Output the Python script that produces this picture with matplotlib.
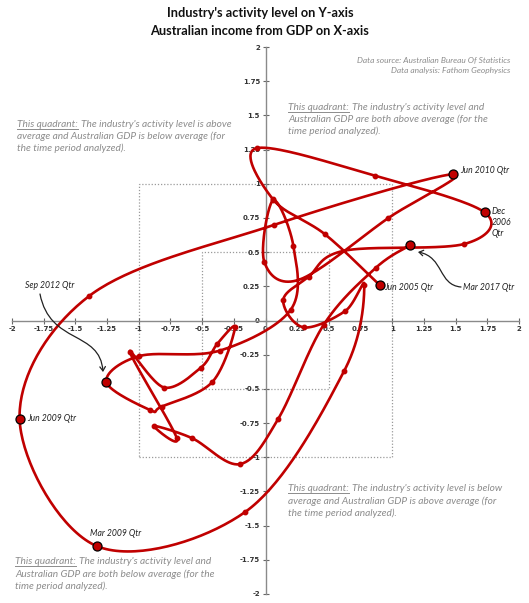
import numpy as np
import matplotlib
matplotlib.use("Agg")
import matplotlib.pyplot as plt
from matplotlib.patches import FancyArrowPatch, Rectangle
from matplotlib.path import Path
from matplotlib.lines import Line2D

# ---------------- data ----------------
gdp_x = [0.90, 0.47, 0.06, -0.07, 0.86, 1.73, 1.57, 0.62, 0.34, 0.14,
         0.30, 0.63, 0.78, 0.62, -0.16, -1.33, -1.94, -1.39, 0.07, 1.48,
         0.97, 0.27, -0.01, 0.06, 0.22, 0.20, -0.36, -0.995, -1.255, -0.91,
         -0.82, -0.42, -0.24, -0.38, -0.51, -0.80, -1.07, -0.70, -0.88, -0.58,
         -0.20, 0.10, 0.46, 0.87, 1.14]
ind_y = [0.26, 0.63, 0.885, 1.26, 1.06, 0.79, 0.56, 0.51, 0.32, 0.15,
         -0.05, 0.07, 0.26, -0.37, -1.40, -1.65, -0.72, 0.18, 0.70, 1.07,
         0.75, 0.30, 0.43, 0.88, 0.545, 0.08, -0.22, -0.26, -0.45, -0.655,
         -0.63, -0.45, -0.05, -0.17, -0.345, -0.49, -0.23, -0.86, -0.77, -0.86,
         -1.05, -0.72, -0.03, 0.385, 0.55]
hidden_points = [7, 21]          # points sitting under crossings (no dot drawn)
label_idx = [0, 5, 15, 16, 19, 28, 44]
label_txt = ["Jun 2005 Qtr", "Dec\n2006\nQtr", "Mar 2009 Qtr", "Jun 2009 Qtr",
             "Jun 2010 Qtr", "Sep 2012 Qtr", "Mar 2017 Qtr"]
ticks = [-2, -1.75, -1.5, -1.25, -1, -0.75, -0.5, -0.25, 0,
         0.25, 0.5, 0.75, 1, 1.25, 1.5, 1.75, 2]
tick_lbl = ["-2", "-1.75", "-1.5", "-1.25", "-1", "-0.75", "-0.5", "-0.25", "0",
            "0.25", "0.5", "0.75", "1", "1.25", "1.5", "1.75", "2"]

title1 = "Industry's activity level on Y-axis"
title2 = "Australian income from GDP on X-axis"
source1 = "Data source: Australian Bureau Of Statistics"
source2 = "Data analysis: Fathom Geophysics"
quad_tl = ["The industry's activity level is above",
           "average and Australian GDP is below average (for",
           "the time period analyzed)."]
quad_tr = ["The industry's activity level and",
           "Australian GDP are both above average (for the",
           "time period analyzed)."]
quad_br = ["The industry's activity level is below",
           "average and Australian GDP is above average (for",
           "the time period analyzed)."]
quad_bl = ["The industry's activity level and",
           "Australian GDP are both below average (for the",
           "time period analyzed)."]

# ---------------- style ----------------
RED = "#c00000"
GREY_TXT = "#8c8c8c"
FONT = "Lato"
W, H = 529, 603
QSIZE = 7.25

def smooth(xs, ys, n=40):
    P = np.column_stack([xs, ys]).astype(float)
    m = np.zeros_like(P)
    m[1:-1] = (P[2:] - P[:-2]) / 2.0
    m[0] = (P[1] - P[0]) / 2.0
    m[-1] = (P[-1] - P[-2]) / 2.0
    t = np.linspace(0, 1, n)[:, None]
    h00 = 2 * t**3 - 3 * t**2 + 1
    h10 = t**3 - 2 * t**2 + t
    h01 = -2 * t**3 + 3 * t**2
    h11 = t**3 - t**2
    segs = []
    for i in range(len(P) - 1):
        seg = h00 * P[i] + h10 * m[i] + h01 * P[i + 1] + h11 * m[i + 1]
        segs.append(seg if i == 0 else seg[1:])
    S = np.vstack(segs)
    return S[:, 0], S[:, 1]

fig = plt.figure(figsize=(W / 100, H / 100), dpi=100)
ax = fig.add_axes([12 / W, (H - 594) / H, 507 / W, 547 / H])
ax.set_xlim(-2, 2)
ax.set_ylim(-2, 2)
ax.patch.set_alpha(0)

for s in ("top", "right"):
    ax.spines[s].set_visible(False)
for s in ("left", "bottom"):
    ax.spines[s].set_position(("data", 0))
    ax.spines[s].set_color("#8a8a8a")
    ax.spines[s].set_linewidth(1.0)
ax.set_xticks(ticks)
ax.set_yticks(ticks)
ax.set_xticklabels(tick_lbl)
ax.set_yticklabels(tick_lbl)
ax.tick_params(direction="inout", length=5, width=0.8, color="#666666",
               labelsize=5, pad=1.5, labelcolor="#333333")
for lab in ax.get_xticklabels() + ax.get_yticklabels():
    lab.set_fontweight("bold")
    lab.set_family("DejaVu Sans")

# dotted boxes
for half in (1.0, 0.5):
    ax.add_patch(Rectangle((-half, -half), 2 * half, 2 * half, fill=False,
                           ls=(0, (1, 1.5)), lw=0.9, ec="#9a9a9a", zorder=1))

# curve
sx, sy = smooth(gdp_x, ind_y)
ax.plot(sx, sy, color=RED, lw=1.9, solid_capstyle="round", zorder=3)
dots = [i for i in range(len(gdp_x)) if i not in hidden_points and i not in label_idx]
ax.plot([gdp_x[i] for i in dots], [ind_y[i] for i in dots], "o", ms=3.2,
        color=RED, mec=RED, zorder=4)
ax.plot([gdp_x[i] for i in label_idx], [ind_y[i] for i in label_idx], "o", ms=6.5,
        mfc=RED, mec="black", mew=0.9, zorder=5)

# point labels
offsets = {0: (5, -3, "left", "center"), 5: (7, -10, "left", "center"),
           15: (-7, 13, "left", "center"), 16: (8, 0, "left", "center"),
           19: (7, 4, "left", "center")}
for i, txt in zip(label_idx, label_txt):
    if i in offsets:
        dx, dy, ha, va = offsets[i]
        ax.annotate(txt, (gdp_x[i], ind_y[i]), xytext=(dx, dy),
                    textcoords="offset pixels", ha=ha, va=va, fontsize=6.2,
                    style="italic", family=FONT, color="#222222",
                    linespacing=1.35, zorder=6)

def px2d(px, py):
    return ((px - 265.5) / 126.75, (320.5 - py) / 136.75)

# Sep 2012 label + arrow
ax.text(*px2d(25, 286), "Sep 2012 Qtr", ha="left", va="center", fontsize=6.2,
        style="italic", family=FONT, color="#222222")
p = Path([px2d(40, 294), px2d(50, 345), px2d(100, 330), px2d(103, 372)],
         [Path.MOVETO, Path.CURVE4, Path.CURVE4, Path.CURVE4])
ax.add_patch(FancyArrowPatch(path=p, arrowstyle="->,head_length=3,head_width=2",
                             color="#222222", lw=0.9, zorder=6))
# Mar 2017 label + arrow
ax.text(*px2d(463, 288), "Mar 2017 Qtr", ha="left", va="center", fontsize=6.2,
        style="italic", family=FONT, color="#222222")
p = Path([px2d(461, 287), px2d(438, 285), px2d(444, 257), px2d(418, 252)],
         [Path.MOVETO, Path.CURVE4, Path.CURVE4, Path.CURVE4])
ax.add_patch(FancyArrowPatch(path=p, arrowstyle="->,head_length=3,head_width=2",
                             color="#222222", lw=0.9, zorder=6))

# titles
fig.text(260 / W, 1 - 13 / H, title1, ha="center", va="center", fontsize=9.2,
         weight="bold", family=FONT, color="#111111")
fig.text(260 / W, 1 - 31 / H, title2, ha="center", va="center", fontsize=9.2,
         weight="bold", family=FONT, color="#111111")
fig.text(510 / W, 1 - 59.5 / H, source1, ha="right", va="center", fontsize=6.05,
         style="italic", family=FONT, color=GREY_TXT)
fig.text(510 / W, 1 - 70.5 / H, source2, ha="right", va="center", fontsize=6.05,
         style="italic", family=FONT, color=GREY_TXT)

# quadrant notes
fig.canvas.draw()
renderer = fig.canvas.get_renderer()

def quadrant(px, py, lines, step=12.0):
    x0 = px / W
    for k, line in enumerate(lines):
        y = 1 - (py + k * step) / H
        if k == 0:
            t1 = fig.text(x0, y, "This quadrant:", ha="left", va="baseline",
                          fontsize=QSIZE, style="italic", family=FONT, color=GREY_TXT)
            bb = t1.get_window_extent(renderer)
            fig.text(bb.x1 / W + 2.8 / W, y, line, ha="left", va="baseline",
                     fontsize=QSIZE, style="italic", family=FONT, color=GREY_TXT)
            fig.add_artist(Line2D([bb.x0 / W, bb.x1 / W], [y - 1.8 / H, y - 1.8 / H],
                                  color=GREY_TXT, lw=0.7))
        else:
            fig.text(x0, y, line, ha="left", va="baseline", fontsize=QSIZE,
                     style="italic", family=FONT, color=GREY_TXT)

quadrant(17, 127, quad_tl, 11.8)
quadrant(288, 110, quad_tr, 11.8)
quadrant(288, 491, quad_br, 12.5)
quadrant(15, 564, quad_bl, 12.6)

fig.savefig("out.png", dpi=100)
